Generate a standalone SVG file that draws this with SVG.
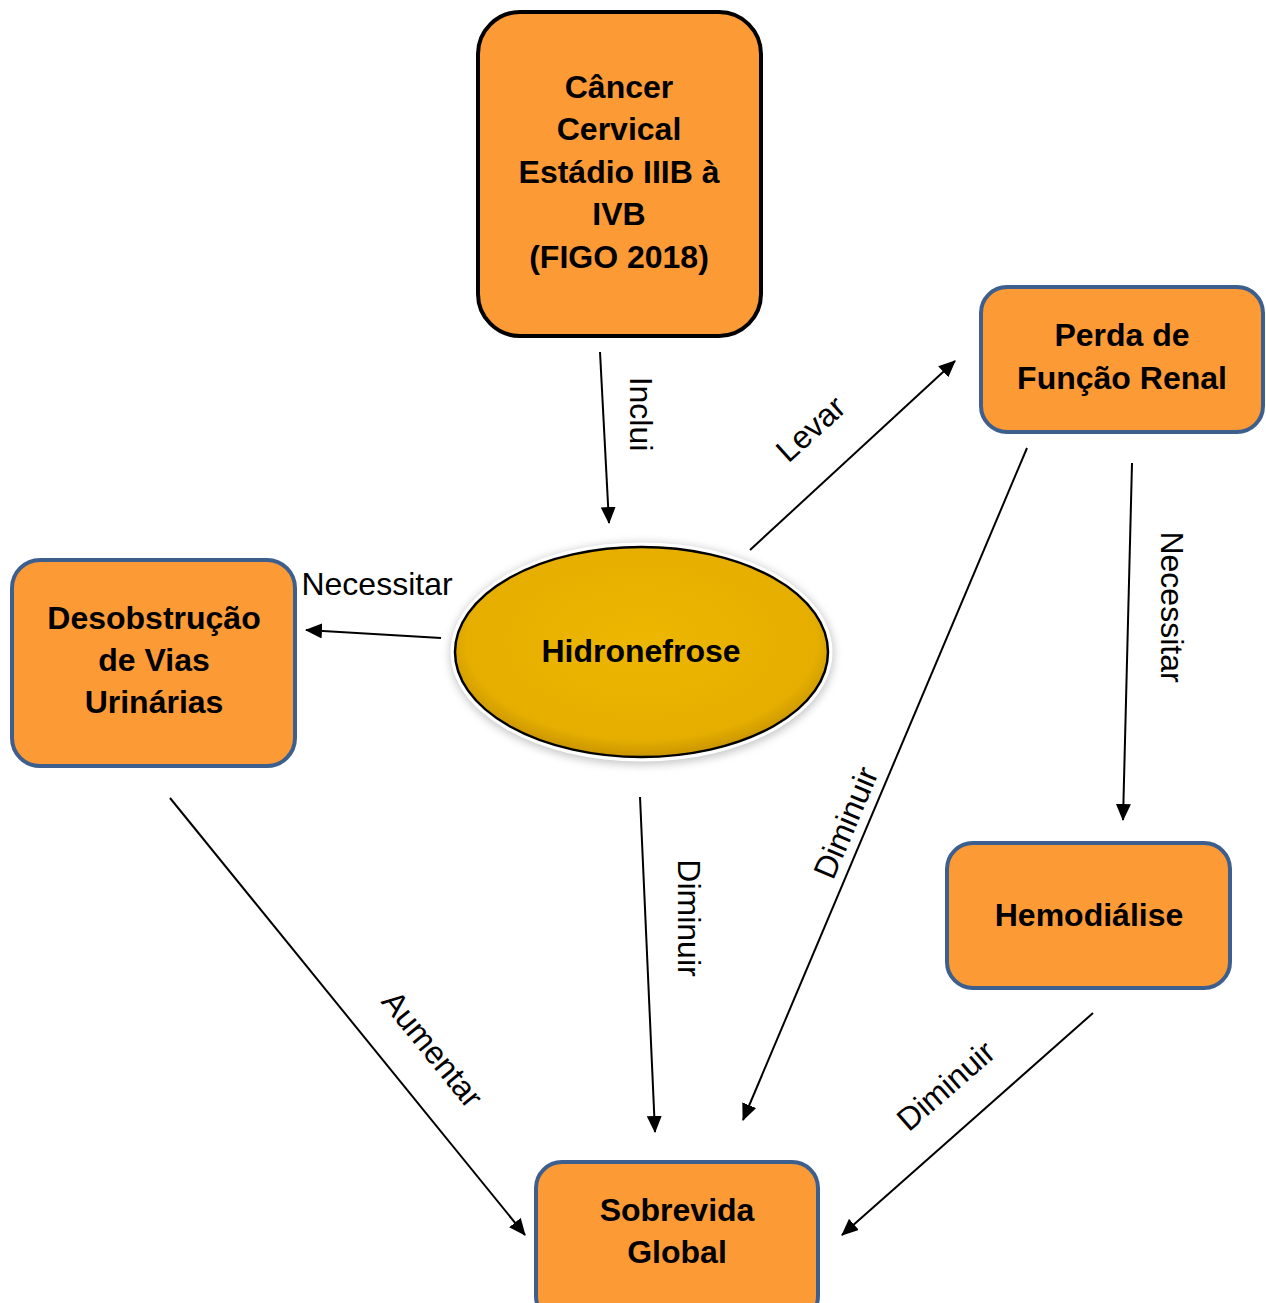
<svg xmlns="http://www.w3.org/2000/svg" width="1266" height="1303" viewBox="0 0 1266 1303">
<style>
.box{fill:#FC9A36;stroke:#3D5F8E;stroke-width:4}
.boxk{fill:#FC9A36;stroke:#000;stroke-width:4}
.nt{font-family:"Liberation Sans",Arial,sans-serif;font-weight:bold;font-size:32px;fill:#000;text-anchor:middle}
.lt{font-family:"Liberation Sans",Arial,sans-serif;font-size:32px;fill:#000;text-anchor:middle}
.cn{stroke:#000;stroke-width:2;fill:none;marker-end:url(#ah)}
</style>
<defs>
<marker id="ah" markerUnits="userSpaceOnUse" markerWidth="17" markerHeight="15" refX="16" refY="7.5" orient="auto">
<path d="M0,0 L17,7.5 L0,15 z" fill="#000"/>
</marker>
<radialGradient id="yg" cx="50%" cy="45%" r="55%">
<stop offset="0" stop-color="#EDB600"/>
<stop offset="0.85" stop-color="#E6AF00"/>
<stop offset="1" stop-color="#C99400"/>
</radialGradient>
<filter id="sh" x="-20%" y="-30%" width="140%" height="160%">
<feGaussianBlur stdDeviation="4"/>
</filter>
</defs>
<rect width="1266" height="1303" fill="#fff"/>
<g id="connectors">
<line class="cn" x1="600" y1="352" x2="609" y2="523"/>
<line class="cn" x1="750" y1="550" x2="955" y2="361"/>
<line class="cn" x1="441" y1="638" x2="306" y2="630"/>
<line class="cn" x1="1132" y1="463" x2="1123" y2="820"/>
<line class="cn" x1="640" y1="797" x2="655" y2="1132"/>
<line class="cn" x1="1027" y1="448" x2="743" y2="1120"/>
<line class="cn" x1="1093" y1="1013" x2="842" y2="1235"/>
<line class="cn" x1="170" y1="798" x2="525" y2="1235"/>
<text class="lt" transform="translate(630,414) rotate(90)">Inclui</text>
<text class="lt" transform="translate(818,437) rotate(-42)">Levar</text>
<text class="lt" x="377" y="595">Necessitar</text>
<text class="lt" transform="translate(1161,607) rotate(90)">Necessitar</text>
<text class="lt" transform="translate(678,918) rotate(90)">Diminuir</text>
<text class="lt" transform="translate(856,827) rotate(-67)">Diminuir</text>
<text class="lt" transform="translate(953,1094) rotate(-41)">Diminuir</text>
<text class="lt" transform="translate(424,1056) rotate(51)">Aumentar</text>
</g>
<g id="cancer">
<rect class="boxk" x="478" y="12" width="283" height="324" rx="42"/>
<text class="nt" x="619" y="98">Câncer</text>
<text class="nt" x="619" y="140">Cervical</text>
<text class="nt" x="619" y="183">Estádio IIIB à</text>
<text class="nt" x="619" y="225">IVB</text>
<text class="nt" x="619" y="268">(FIGO 2018)</text>
</g>
<g id="perda">
<rect class="box" x="981" y="287" width="282" height="145" rx="26"/>
<text class="nt" x="1122" y="346">Perda de</text>
<text class="nt" x="1122" y="389">Função Renal</text>
</g>
<g id="desobstrucao">
<rect class="box" x="12" y="560" width="283" height="206" rx="28"/>
<text class="nt" x="154" y="629">Desobstrução</text>
<text class="nt" x="154" y="671">de Vias</text>
<text class="nt" x="154" y="713">Urinárias</text>
</g>
<g id="hidronefrose">
<ellipse cx="642" cy="654" rx="192" ry="111" fill="#999" opacity="0.55" filter="url(#sh)"/>
<ellipse cx="641.5" cy="652" rx="191" ry="109.5" fill="#fff"/>
<ellipse cx="641.5" cy="652" rx="186.5" ry="105" fill="url(#yg)" stroke="#000" stroke-width="2.5"/>
<text class="nt" x="641" y="662">Hidronefrose</text>
</g>
<g id="hemodialise">
<rect class="box" x="947" y="843" width="283" height="145" rx="26"/>
<text class="nt" x="1089" y="926">Hemodiálise</text>
</g>
<g id="sobrevida">
<rect class="box" x="536" y="1162" width="282" height="160" rx="26"/>
<text class="nt" x="677" y="1221">Sobrevida</text>
<text class="nt" x="677" y="1263">Global</text>
</g>
</svg>
